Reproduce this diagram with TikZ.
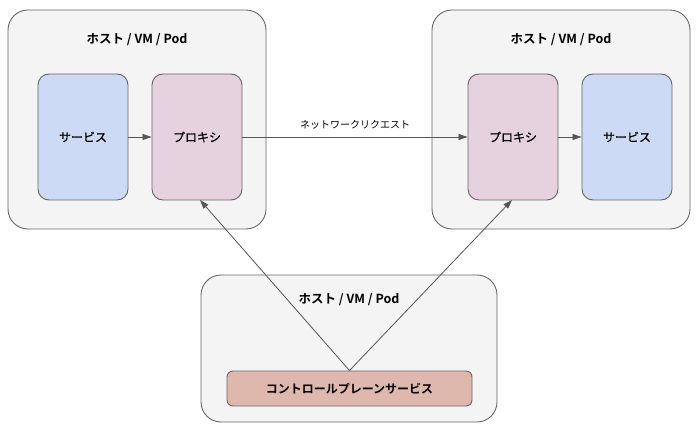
\documentclass[tikz,border=0pt]{standalone}
\usepackage{fontspec}
\setmainfont{Noto Sans CJK JP}
\newfontfamily\jpbold{Noto Sans CJK JP Bold}
\newfontfamily\jpmed[FakeBold=0.7]{Noto Sans CJK JP}
\usetikzlibrary{arrows.meta}
\definecolor{hostfill}{HTML}{F4F4F4}
\definecolor{edge}{HTML}{666666}
\definecolor{svcfill}{HTML}{CCDAF5}
\definecolor{prxfill}{HTML}{E6D1DE}
\definecolor{cpfill}{HTML}{DFB8AD}
\definecolor{arr}{HTML}{555555}
\tikzset{
  host/.style={draw=edge, fill=hostfill, rounded corners=20pt, line width=0.9pt},
  inner/.style={draw=edge, line width=0.9pt, rounded corners=11pt, minimum width=90pt, minimum height=126pt, font=\jpmed\fontsize{12}{14}\selectfont, inner sep=0pt},
  svc/.style={inner, fill=svcfill},
  prx/.style={inner, fill=prxfill},
  ttl/.style={font=\jpbold\fontsize{12.5}{14}\selectfont},
  conn/.style={draw=arr, line width=0.8pt, -{Triangle[length=9pt,width=6pt]}}
}
\begin{document}
\begin{tikzpicture}[x=1pt,y=-1pt]
\useasboundingbox (0,0) rectangle (700,435);
% hosts
\draw[host] (8,10) rectangle (266,229);
\node[ttl] (t1) at (137,40) {ホスト / VM / Pod};
\draw[host] (432,10) rectangle (690,229);
\node[ttl] (t2) at (561,40) {ホスト / VM / Pod};
\draw[host] (201,275) rectangle (497,422);
\node[ttl] (t3) at (349,300) {ホスト / VM / Pod};
% inner boxes
\node[svc] (s1) at (83,137) {サービス};
\node[prx] (p1) at (197,137) {プロキシ};
\node[prx] (p2) at (513,137) {プロキシ};
\node[svc] (s2) at (627,137) {サービス};
\node[draw=edge, fill=cpfill, line width=0.9pt, rounded corners=6pt, minimum width=245pt, minimum height=35pt, inner sep=0pt, font=\jpbold\fontsize{12}{14}\selectfont] (cp) at (349.5,388.5) {コントロールプレーンサービス};
% connectors
\draw[conn] (s1) -- (p1);
\draw[conn] (p2) -- (s2);
\draw[conn] (p1) -- node[above=4pt, font=\fontsize{10}{12}\selectfont, text=black] (nl) {ネットワークリクエスト} (p2);
\draw[conn] (cp.north) -- (200,200);
\draw[conn] (cp.north) -- (512,200);
\end{tikzpicture}
\end{document}
